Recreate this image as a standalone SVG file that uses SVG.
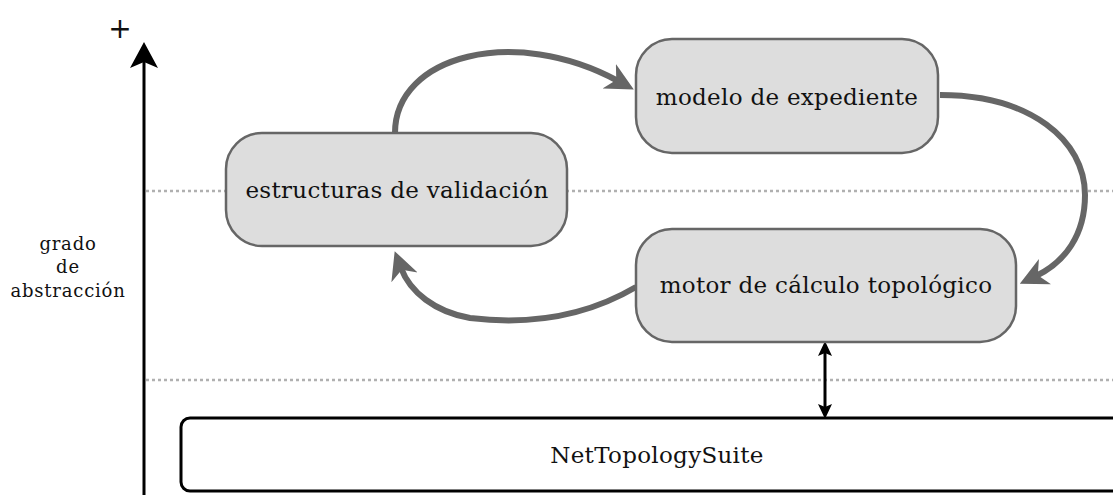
<svg xmlns="http://www.w3.org/2000/svg" width="1113" height="495" viewBox="0 0 1113 495">
<style>
.node rect{fill:#dddddd;stroke:#666666;stroke-width:2.5}
.lbl{font-family:"DejaVu Serif",serif;font-size:23px;letter-spacing:0.3px;fill:#111;text-anchor:middle;dominant-baseline:central}
.small{font-family:"DejaVu Serif",serif;font-size:18px;letter-spacing:0.8px;fill:#111;text-anchor:middle}
.dot{stroke:#b0b0b0;stroke-width:2.5;stroke-dasharray:3 3;fill:none}
.flow{fill:none;stroke:#666666;stroke-width:6}
</style>
<defs>
<marker id="gh" markerUnits="userSpaceOnUse" viewBox="0 0 30 30" markerWidth="30" markerHeight="30" refX="10" refY="15" orient="auto">
<path d="M0,1 L28,15 L0,29 L8,15 Z" fill="#666666"/>
</marker>
<marker id="bh" markerUnits="userSpaceOnUse" viewBox="0 0 16 14" markerWidth="16" markerHeight="14" refX="4" refY="7" orient="auto-start-reverse">
<path d="M0,0 L15,7 L0,14 L3,7 Z" fill="#000"/>
</marker>
<marker id="ah" markerUnits="userSpaceOnUse" viewBox="0 0 28 28" markerWidth="28" markerHeight="28" refX="6" refY="14" orient="auto">
<path d="M0,0 L26,14 L0,28 L6,14 Z" fill="#000"/>
</marker>
</defs>
<rect width="1113" height="495" fill="#ffffff"/>
<g id="guides">
<line class="dot" x1="146" y1="191" x2="1113" y2="191"/>
<line class="dot" x1="146" y1="380" x2="1113" y2="380"/>
</g>
<g id="axis">
<line x1="144" y1="495" x2="144" y2="62" stroke="#000" stroke-width="3" marker-end="url(#ah)"/>
<text x="120" y="38" font-family="DejaVu Sans, sans-serif" font-size="28" text-anchor="middle" fill="#111">+</text>
<text class="small" x="68" y="250">grado</text>
<text class="small" x="68" y="273">de</text>
<text class="small" x="68" y="297">abstracción</text>
</g>
<g id="connectors">
<path class="flow" d="M395,133 C395,55 515,25 618,81" marker-end="url(#gh)"/>
<path class="flow" d="M940,95 C1030,95 1085,140 1085,195 C1085,235 1065,262 1036,276" marker-end="url(#gh)"/>
<path class="flow" d="M636,287 C580,320 520,324 470,318 C435,312 410,292 401,268" marker-end="url(#gh)"/>
<line x1="825" y1="352" x2="825" y2="408" stroke="#000" stroke-width="3" marker-start="url(#bh)" marker-end="url(#bh)"/>
</g>
<g id="n-estructuras" class="node">
<rect x="226" y="133" width="341" height="113" rx="36"/>
<text class="lbl" x="397" y="190">estructuras de validación</text>
</g>
<g id="n-modelo" class="node">
<rect x="636" y="39" width="302" height="114" rx="36"/>
<text class="lbl" x="787" y="97">modelo de expediente</text>
</g>
<g id="n-motor" class="node">
<rect x="636" y="229" width="380" height="113" rx="36"/>
<text class="lbl" x="826" y="285">motor de cálculo topológico</text>
</g>
<g id="n-nts">
<rect x="181" y="418" width="950" height="73" rx="9" fill="#ffffff" stroke="#000" stroke-width="3"/>
<text class="lbl" x="657" y="455">NetTopologySuite</text>
</g>
</svg>
